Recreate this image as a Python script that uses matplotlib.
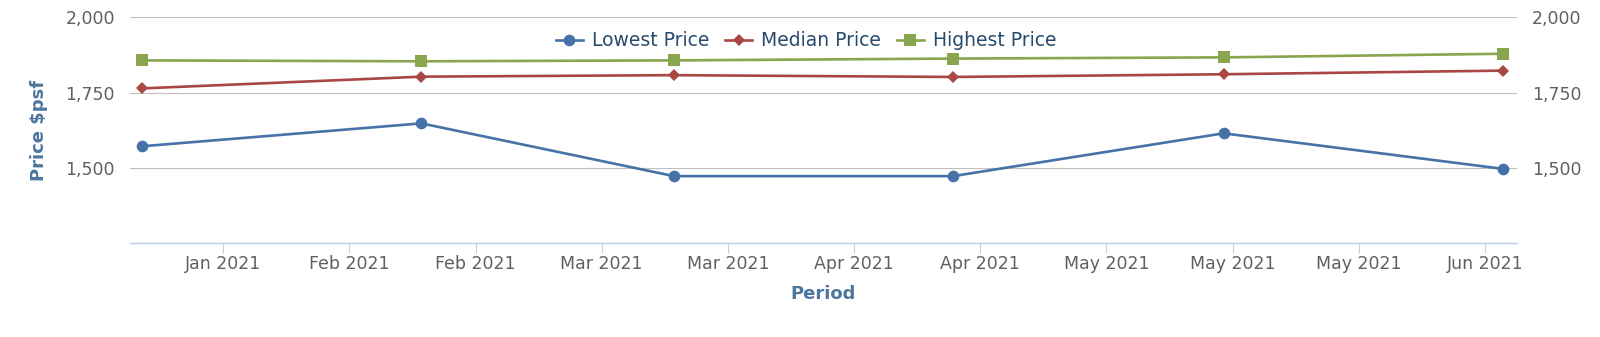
import datetime as dt

import matplotlib

matplotlib.use("Agg")
import matplotlib.dates as mdates
import matplotlib.pyplot as plt
import pandas as pd

# data (mid-month periods)
periods = ["2021-01-16", "2021-02-16", "2021-03-16", "2021-04-16", "2021-05-16", "2021-06-16"]
lowest = [1572, 1648, 1473, 1473, 1615, 1497]
median = [1764, 1803, 1808, 1802, 1811, 1823]
highest = [1857, 1854, 1857, 1863, 1867, 1879]
series_names = ["Lowest Price", "Median Price", "Highest Price"]
y_ticks = [1500, 1750, 2000]
x_tick_start = "2021-01-25"  # fortnightly ticks, as on the reference
n_x_ticks = 11

x = pd.to_datetime(periods)

W, H = 1600, 337
fig = plt.figure(figsize=(W / 100, H / 100), dpi=100)
ax = fig.add_axes([130 / W, 1 - 243.3 / H, (1517.3 - 130) / W, (243.3 - 17.3) / H])

styles = [
    dict(color="#4572A7", marker="o", markersize=8.4),
    dict(color="#AA4643", marker="D", markersize=5.8),
    dict(color="#89A54E", marker="s", markersize=9),
]
for vals, name, st in zip([lowest, median, highest], series_names, styles):
    ax.plot(x, vals, label=name, linewidth=1.9, markeredgewidth=0, clip_on=False, **st)

ax.set_ylim(1250, 2000)
ax.set_xlim(dt.datetime(2021, 1, 14, 16), dt.datetime(2021, 6, 17, 14))

ticks = pd.date_range(x_tick_start, periods=n_x_ticks, freq="14D")
ax.set_xticks(ticks)
ax.xaxis.set_major_formatter(mdates.DateFormatter("%b %Y"))

ax.set_yticks(y_ticks)
ax.set_yticklabels([f"{v:,}" for v in y_ticks])
ax.grid(axis="y", color="#C0C0C0", linewidth=0.8)
ax.set_axisbelow(True)

for side in ["top", "left", "right"]:
    ax.spines[side].set_visible(False)
ax.spines["bottom"].set_color("#C0D0E0")
ax.spines["bottom"].set_linewidth(1.0)

ax.tick_params(axis="x", direction="out", length=7.2, width=0.8, color="#C0D0E0",
               labelsize=12.5, labelcolor="#606060", pad=1.5)
ax.tick_params(axis="y", length=0, pad=10.8, labelsize=12.5, labelcolor="#606060")

# mirrored right axis
ax2 = ax.twinx()
ax2.set_ylim(ax.get_ylim())
ax2.set_yticks(y_ticks)
ax2.set_yticklabels([f"{v:,}" for v in y_ticks])
ax2.tick_params(axis="y", length=0, pad=10.4, labelsize=12.5, labelcolor="#606060")
for s in ax2.spines.values():
    s.set_visible(False)

fig.text(39 / W, 1 - 130.3 / H, "Price $psf", rotation=90, ha="center", va="center",
         fontsize=13, fontweight="bold", color="#4d759e")
fig.text(823.5 / W, 1 - 294.3 / H, "Period", ha="center", va="center",
         fontsize=13, fontweight="bold", color="#4d759e")

leg = ax.legend(loc="center", bbox_to_anchor=(806 / W, 1 - 40.7 / H),
                bbox_transform=fig.transFigure, ncol=3, frameon=False,
                fontsize=13.5, handlelength=1.44, handletextpad=0.48,
                columnspacing=0.85, borderpad=0, borderaxespad=0)
for t in leg.get_texts():
    t.set_color("#274b6d")

fig.savefig("out.png", dpi=100)
